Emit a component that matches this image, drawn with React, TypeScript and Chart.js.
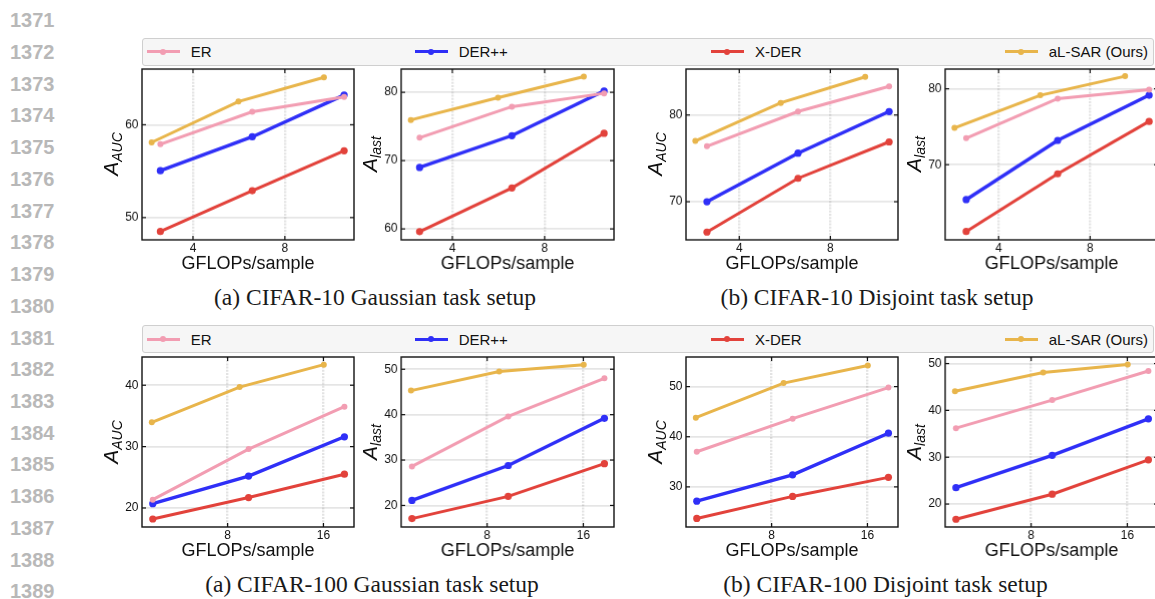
import React, { useEffect, useRef } from "react";
import { Chart, registerables } from "chart.js";

Chart.register(...registerables);

// ---------- data ----------
const seriesNames = ["ER", "DER++", "X-DER", "aL-SAR (Ours)"];
const seriesColors = ["#F29DB2", "#2F2FF7", "#E2423B", "#E8B54B"];

const xTicksTop = [4, 8];
const xTicksBottom = [8, 16];
const gflopsTop = [2.58, 6.58, 10.58];
const gflopsTopGaussOurs = [2.2, 5.98, 9.7];
const gflopsTopDisjOurs = [2.07, 5.82, 9.53];
const gflopsBottom = [1.75, 9.75, 17.75];
const gflopsBottomOurs = [1.67, 9.0, 16.03];

// CIFAR-10 Gaussian
const c10GaussAucER = [57.9, 61.4, 63.0];
const c10GaussAucDER = [55.05, 58.7, 63.2];
const c10GaussAucXDER = [48.5, 52.9, 57.2];
const c10GaussAucOurs = [58.1, 62.5, 65.1];
const c10GaussAucTicks = [50, 60];
const c10GaussLastER = [73.35, 77.9, 79.85];
const c10GaussLastDER = [69.0, 73.65, 80.2];
const c10GaussLastXDER = [59.6, 66.0, 74.0];
const c10GaussLastOurs = [75.95, 79.2, 82.3];
const c10GaussLastTicks = [60, 70, 80];
// CIFAR-10 Disjoint
const c10DisjAucER = [76.4, 80.4, 83.3];
const c10DisjAucDER = [70.0, 75.6, 80.4];
const c10DisjAucXDER = [66.5, 72.7, 76.9];
const c10DisjAucOurs = [77.0, 81.4, 84.4];
const c10DisjAucTicks = [70, 80];
const c10DisjLastER = [73.5, 78.7, 79.9];
const c10DisjLastDER = [65.4, 73.2, 79.15];
const c10DisjLastXDER = [61.2, 68.8, 75.7];
const c10DisjLastOurs = [74.85, 79.15, 81.66];
const c10DisjLastTicks = [70, 80];
// CIFAR-100 Gaussian
const c100GaussAucER = [21.35, 29.6, 36.5];
const c100GaussAucDER = [20.7, 25.2, 31.6];
const c100GaussAucXDER = [18.2, 21.7, 25.5];
const c100GaussAucOurs = [33.95, 39.7, 43.35];
const c100GaussAucTicks = [20, 30, 40];
const c100GaussLastER = [28.6, 39.6, 48.0];
const c100GaussLastDER = [21.1, 28.8, 39.2];
const c100GaussLastXDER = [17.1, 22.0, 29.2];
const c100GaussLastOurs = [45.3, 49.5, 51.0];
const c100GaussLastTicks = [20, 30, 40, 50];
// CIFAR-100 Disjoint
const c100DisjAucER = [37.0, 43.6, 49.8];
const c100DisjAucDER = [27.15, 32.4, 40.7];
const c100DisjAucXDER = [23.7, 28.1, 31.9];
const c100DisjAucOurs = [43.8, 50.7, 54.2];
const c100DisjAucTicks = [30, 40, 50];
const c100DisjLastER = [36.2, 42.2, 48.4];
const c100DisjLastDER = [23.5, 30.4, 38.2];
const c100DisjLastXDER = [16.75, 22.1, 29.45];
const c100DisjLastOurs = [44.1, 48.1, 49.8];
const c100DisjLastTicks = [20, 30, 40, 50];

const lineNumbers = [
  "1371", "1372", "1373", "1374", "1375", "1376", "1377", "1378", "1379", "1380",
  "1381", "1382", "1383", "1384", "1385", "1386", "1387", "1388", "1389",
];
const captions = [
  "(a) CIFAR-10 Gaussian task setup",
  "(b) CIFAR-10 Disjoint task setup",
  "(a) CIFAR-100 Gaussian task setup",
  "(b) CIFAR-100 Disjoint task setup",
];

// ---------- layout ----------
const FONT = "'Liberation Sans', Arial, Helvetica, sans-serif";
const COLS = [141.7, 401, 685.8, 945];
const FRAME_W = 212.5;
const ROWS = [69.3, 357];
const FRAME_H = 170.3;

type PanelCfg = {
  col: number; row: number;
  xMin: number; xMax: number; yMin: number; yMax: number;
  xTicks: number[]; yTicks: number[];
  xs: number[]; xsOurs: number[];
  series: number[][]; sub: string;
};

const TOP_GAUSS_X = [1.78, 11.01];
const TOP_DISJ_X = [1.66, 10.97];
const BOT_X = [0.85, 18.55];

const panels: PanelCfg[] = [
  { col: 0, row: 0, xMin: TOP_GAUSS_X[0], xMax: TOP_GAUSS_X[1], yMin: 47.6, yMax: 66.0, xTicks: xTicksTop, yTicks: c10GaussAucTicks, xs: gflopsTop, xsOurs: gflopsTopGaussOurs, series: [c10GaussAucER, c10GaussAucDER, c10GaussAucXDER, c10GaussAucOurs], sub: "AUC" },
  { col: 1, row: 0, xMin: TOP_GAUSS_X[0], xMax: TOP_GAUSS_X[1], yMin: 58.4, yMax: 83.4, xTicks: xTicksTop, yTicks: c10GaussLastTicks, xs: gflopsTop, xsOurs: gflopsTopGaussOurs, series: [c10GaussLastER, c10GaussLastDER, c10GaussLastXDER, c10GaussLastOurs], sub: "last" },
  { col: 2, row: 0, xMin: TOP_DISJ_X[0], xMax: TOP_DISJ_X[1], yMin: 65.6, yMax: 85.3, xTicks: xTicksTop, yTicks: c10DisjAucTicks, xs: gflopsTop, xsOurs: gflopsTopDisjOurs, series: [c10DisjAucER, c10DisjAucDER, c10DisjAucXDER, c10DisjAucOurs], sub: "AUC" },
  { col: 3, row: 0, xMin: TOP_DISJ_X[0], xMax: TOP_DISJ_X[1], yMin: 60.1, yMax: 82.6, xTicks: xTicksTop, yTicks: c10DisjLastTicks, xs: gflopsTop, xsOurs: gflopsTopDisjOurs, series: [c10DisjLastER, c10DisjLastDER, c10DisjLastXDER, c10DisjLastOurs], sub: "last" },
  { col: 0, row: 1, xMin: BOT_X[0], xMax: BOT_X[1], yMin: 16.9, yMax: 44.6, xTicks: xTicksBottom, yTicks: c100GaussAucTicks, xs: gflopsBottom, xsOurs: gflopsBottomOurs, series: [c100GaussAucER, c100GaussAucDER, c100GaussAucXDER, c100GaussAucOurs], sub: "AUC" },
  { col: 1, row: 1, xMin: BOT_X[0], xMax: BOT_X[1], yMin: 15.25, yMax: 52.7, xTicks: xTicksBottom, yTicks: c100GaussLastTicks, xs: gflopsBottom, xsOurs: gflopsBottomOurs, series: [c100GaussLastER, c100GaussLastDER, c100GaussLastXDER, c100GaussLastOurs], sub: "last" },
  { col: 2, row: 1, xMin: BOT_X[0], xMax: BOT_X[1], yMin: 22.0, yMax: 55.9, xTicks: xTicksBottom, yTicks: c100DisjAucTicks, xs: gflopsBottom, xsOurs: gflopsBottomOurs, series: [c100DisjAucER, c100DisjAucDER, c100DisjAucXDER, c100DisjAucOurs], sub: "AUC" },
  { col: 3, row: 1, xMin: BOT_X[0], xMax: BOT_X[1], yMin: 15.1, yMax: 51.4, xTicks: xTicksBottom, yTicks: c100DisjLastTicks, xs: gflopsBottom, xsOurs: gflopsBottomOurs, series: [c100DisjLastER, c100DisjLastDER, c100DisjLastXDER, c100DisjLastOurs], sub: "last" },
];

const Y_AXIS_W = 40;
const PAD_T = 6;
const PAD_R = 6;
const X_AXIS_H = 35;

const framePlugin = {
  id: "frameTicks",
  afterDraw(chart: any) {
    const { ctx, chartArea: a, scales } = chart;
    ctx.save();
    ctx.strokeStyle = "#111";
    ctx.lineWidth = 1.4;
    ctx.strokeRect(a.left, a.top, a.right - a.left, a.bottom - a.top);
    ctx.lineWidth = 1.2;
    const tl = 4;
    const seg = (x1: number, y1: number, x2: number, y2: number) => {
      ctx.beginPath(); ctx.moveTo(x1, y1); ctx.lineTo(x2, y2); ctx.stroke();
    };
    scales.y.ticks.forEach((t: any) => {
      const y = scales.y.getPixelForValue(t.value);
      seg(a.left, y, a.left + tl, y);
      seg(a.right, y, a.right - tl, y);
    });
    scales.x.ticks.forEach((t: any) => {
      const x = scales.x.getPixelForValue(t.value);
      seg(x, a.bottom, x, a.bottom - tl);
      seg(x, a.top, x, a.top + tl);
    });
    ctx.restore();
  },
};

function Panel({ p }: { p: PanelCfg }) {
  const ref = useRef<HTMLCanvasElement>(null);
  const left = COLS[p.col];
  const top = ROWS[p.row];
  const cw = FRAME_W + Y_AXIS_W + PAD_R;
  const ch = FRAME_H + PAD_T + X_AXIS_H;

  useEffect(() => {
    const datasets = p.series.map((vals, i) => {
      const xs = i === 3 ? p.xsOurs : p.xs;
      return {
        label: seriesNames[i],
        data: vals.map((v, j) => ({ x: xs[j], y: v })),
        borderColor: seriesColors[i],
        backgroundColor: seriesColors[i],
        borderWidth: i === 1 ? 3.4 : 3,
        pointRadius: i === 1 || i === 2 ? 3.6 : 3,
        pointBorderWidth: 0,
        pointHoverRadius: 0,
        tension: 0,
        fill: false,
      };
    });
    const chart = new Chart(ref.current as HTMLCanvasElement, {
      type: "line",
      data: { datasets } as any,
      options: {
        animation: false,
        responsive: false,
        events: [],
        layout: { padding: { top: PAD_T, right: PAD_R, left: 0, bottom: 0 } },
        plugins: { legend: { display: false }, tooltip: { enabled: false } },
        scales: {
          x: {
            type: "linear",
            min: p.xMin,
            max: p.xMax,
            afterBuildTicks: (s: any) => { s.ticks = p.xTicks.map((v) => ({ value: v })); },
            afterFit: (s: any) => { s.height = X_AXIS_H; s.paddingLeft = 0; s.paddingRight = 0; },
            grid: { color: "rgba(0,0,0,0.11)", lineWidth: 2.4, drawTicks: false },
            border: { display: false, dash: [2, 1.2] },
            ticks: { padding: 1, color: "#111", font: { family: FONT, size: 12 }, maxRotation: 0, autoSkip: false },
            title: { display: true, text: "GFLOPs/sample", color: "#111", font: { family: FONT, size: 18, lineHeight: 1.2 }, padding: 0 },
          },
          y: {
            type: "linear",
            min: p.yMin,
            max: p.yMax,
            afterBuildTicks: (s: any) => { s.ticks = p.yTicks.map((v) => ({ value: v })); },
            afterFit: (s: any) => { s.width = Y_AXIS_W; s.paddingTop = 0; s.paddingBottom = 0; },
            grid: { color: "rgba(0,0,0,0.1)", lineWidth: 1.8, drawTicks: false },
            border: { display: false },
            ticks: { padding: 3.5, color: "#111", font: { family: FONT, size: 12 } },
          },
        },
      } as any,
      plugins: [framePlugin],
    });
    return () => chart.destroy();
  }, []);

  return (
    <>
      <canvas
        ref={ref}
        width={cw}
        height={ch}
        style={{ position: "absolute", left: left - Y_AXIS_W, top: top - PAD_T, width: cw, height: ch }}
      />
      <div
        style={{
          position: "absolute", left: left - 24, top: top + FRAME_H / 2, width: 0, height: 0,
          transform: "rotate(-90deg)", transformOrigin: "0 0",
        }}
      >
        <div
          style={{
            position: "absolute", left: 0, top: 0, transform: "translate(-50%, -18px)",
            whiteSpace: "nowrap", fontSize: 21, lineHeight: "21px", fontStyle: "italic",
            fontFamily: FONT, color: "#111",
          }}
        >
          A<span style={{ fontSize: 14, position: "relative", top: 3.5 }}>{p.sub}</span>
        </div>
      </div>
    </>
  );
}

function Legend({ top }: { top: number }) {
  return (
    <div
      style={{
        position: "absolute", left: 141.7, top, width: 1012.3, height: 28, boxSizing: "border-box",
        background: "#f6f6f6", border: "1px solid #cfcfcf", borderRadius: 3,
        display: "flex", justifyContent: "space-between", alignItems: "center",
        padding: "0 5px 0 4px", fontFamily: FONT, fontSize: 15, color: "#111",
      }}
    >
      {seriesNames.map((name, i) => (
        <div key={name} style={{ display: "flex", alignItems: "center" }}>
          <div style={{ position: "relative", width: 33, height: 3, background: seriesColors[i], marginRight: 11 }}>
            <div
              style={{
                position: "absolute", left: 13.5, top: -1.5, width: 6, height: 6,
                borderRadius: 3, background: seriesColors[i],
              }}
            />
          </div>
          <span>{name}</span>
        </div>
      ))}
    </div>
  );
}

function Caption({ text, cx, cy }: { text: string; cx: number; cy: number }) {
  return (
    <div
      style={{
        position: "absolute", left: cx, top: cy, transform: "translate(-50%, -50%)",
        whiteSpace: "nowrap", fontFamily: "'Liberation Serif', 'Times New Roman', serif",
        fontSize: 23.5, lineHeight: "26px", color: "#1a1a1a",
      }}
    >
      {text}
    </div>
  );
}

export default function App() {
  return (
    <div
      style={{
        position: "absolute", left: 0, top: 0, width: 1155, height: 599, overflow: "hidden",
        background: "#fff",
      }}
    >
      {lineNumbers.map((n, i) => (
        <div
          key={n}
          style={{
            position: "absolute", left: 10, top: 20.3 + i * 31.72, transform: "translateY(-50%)",
            fontFamily: FONT, fontWeight: 700, fontSize: 20, lineHeight: "22px", color: "#b8b8b8",
          }}
        >
          {n}
        </div>
      ))}
      <Legend top={37.7} />
      <Legend top={325.3} />
      {panels.map((p, i) => (
        <Panel key={i} p={p} />
      ))}
      <Caption text={captions[0]} cx={375} cy={297} />
      <Caption text={captions[1]} cx={877} cy={297} />
      <Caption text={captions[2]} cx={372} cy={584} />
      <Caption text={captions[3]} cx={885.5} cy={584} />
    </div>
  );
}
